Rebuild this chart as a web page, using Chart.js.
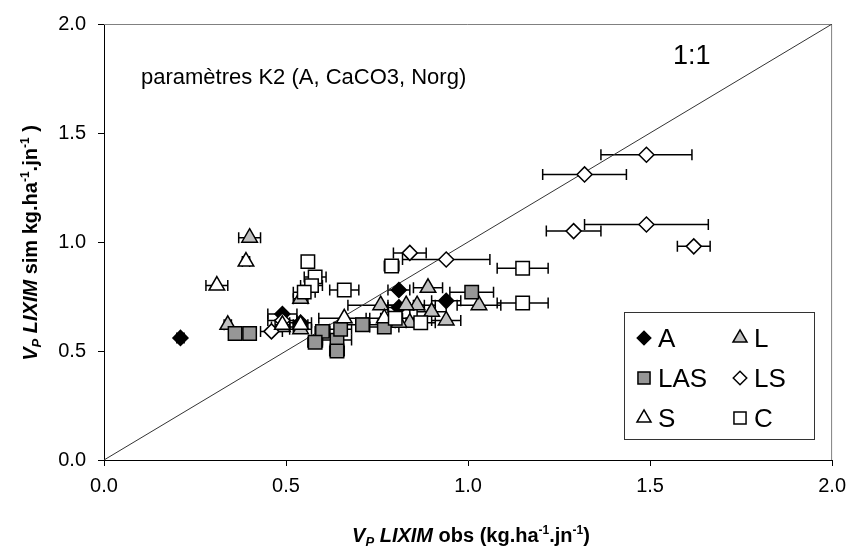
<!DOCTYPE html>
<html>
<head>
<meta charset="utf-8">
<script src="https://cdn.jsdelivr.net/npm/chart.js@4.4.0/dist/chart.umd.min.js"></script>
<style>
  html, body { margin: 0; padding: 0; background: #fff; }
  #wrap { width: 854px; height: 549px; }
</style>
</head>
<body>
<div id="wrap"><canvas id="vpChart" width="854" height="549"></canvas></div>
<script>
/* axis range + ticks */
const axisMin = 0;
const axisMax = 2;
const axisStep = 0.5;

/* series: observed (x), simulated (y), half-width of the x error bar */
const aX   = [0.21, 0.49, 0.54, 0.81, 0.81, 0.94];
const aY   = [0.56, 0.67, 0.63, 0.78, 0.70, 0.73];
const aErr = [0.01, 0.04, 0.03, 0.03, 0.03, 0.04];

const lX   = [0.40, 0.34, 0.54, 0.54, 0.49, 0.76, 0.89, 0.86, 0.83, 0.90, 0.94, 0.84, 0.81, 1.03];
const lY   = [1.02, 0.62, 0.74, 0.60, 0.61, 0.71, 0.79, 0.71, 0.71, 0.68, 0.64, 0.63, 0.63, 0.71];
const lErr = [0.03, 0.01, 0.02, 0.03, 0.03, 0.09, 0.04, 0.05, 0.05, 0.04, 0.04, 0.04, 0.04, 0.06];

const lasX   = [0.36, 0.40, 0.60, 0.58, 0.64, 0.64, 0.71, 0.77, 1.01, 0.65];
const lasY   = [0.58, 0.58, 0.59, 0.54, 0.55, 0.50, 0.62, 0.61, 0.77, 0.60];
const lasErr = [0.01, 0.01, 0.02, 0.02, 0.04, 0.02, 0.05, 0.04, 0.06, 0.03];

const lsX   = [1.49, 1.32, 1.29, 1.49, 1.62, 0.84, 0.94, 0.49, 0.46];
const lsY   = [1.40, 1.31, 1.05, 1.08, 0.98, 0.95, 0.92, 0.64, 0.59];
const lsErr = [0.125, 0.115, 0.075, 0.17, 0.045, 0.045, 0.12, 0.04, 0.03];

const sX   = [0.31, 0.39, 0.66, 0.77, 0.54, 0.49];
const sY   = [0.80, 0.91, 0.65, 0.65, 0.62, 0.62];
const sErr = [0.03, 0.01, 0.07, 0.05, 0.02, 0.02];

const cX   = [0.56, 0.58, 0.57, 0.55, 0.66, 0.79, 1.15, 1.15, 0.87, 0.80];
const cY   = [0.91, 0.84, 0.80, 0.77, 0.78, 0.89, 0.88, 0.72, 0.63, 0.65];
const cErr = [0.01, 0.03, 0.03, 0.03, 0.04, 0.02, 0.07, 0.07, 0.04, 0.04];

const oneToOne = [0, 2];

function toPoints(xs, ys) {
  return xs.map((x, i) => ({ x: x, y: ys[i] }));
}

function series(label, xs, ys, errs, style, radius, fill, order) {
  return {
    label: label,
    data: toPoints(xs, ys),
    xErr: errs,
    pointStyle: style,
    pointRadius: radius,
    pointBackgroundColor: fill,
    pointBorderColor: '#000',
    pointBorderWidth: 1.5,
    showLine: false,
    order: order
  };
}

const datasets = [
  series('A',   aX,   aY,   aErr,   'rectRot',  7.5, '#000000', 6),
  series('L',   lX,   lY,   lErr,   'triangle', 9,   '#c0c0c0', 5),
  series('LAS', lasX, lasY, lasErr, 'rect',     9.5, '#969696', 4),
  series('LS',  lsX,  lsY,  lsErr,  'rectRot',  7.5, '#ffffff', 3),
  series('S',   sX,   sY,   sErr,   'triangle', 9,   '#ffffff', 2),
  series('C',   cX,   cY,   cErr,   'rect',     9.5, '#ffffff', 1),
  {
    label: '1:1',
    data: toPoints(oneToOne, oneToOne),
    showLine: true,
    borderColor: '#333',
    borderWidth: 1,
    pointRadius: 0,
    order: 10
  }
];

/* Horizontal error bars, drawn under the markers */
const errorBars = {
  id: 'errorBars',
  beforeDatasetsDraw(chart) {
    const ctx = chart.ctx;
    const xs = chart.scales.x, ys = chart.scales.y;
    ctx.save();
    ctx.strokeStyle = '#000';
    ctx.lineWidth = 1.5;
    chart.data.datasets.forEach((ds) => {
      if (!ds.xErr) return;
      ds.data.forEach((p, i) => {
        const e = ds.xErr[i];
        if (!e) return;
        const x0 = xs.getPixelForValue(p.x - e);
        const x1 = xs.getPixelForValue(p.x + e);
        const y = ys.getPixelForValue(p.y);
        ctx.beginPath();
        ctx.moveTo(x0, y); ctx.lineTo(x1, y);
        ctx.moveTo(x0, y - 5.5); ctx.lineTo(x0, y + 5.5);
        ctx.moveTo(x1, y - 5.5); ctx.lineTo(x1, y + 5.5);
        ctx.stroke();
      });
    });
    ctx.restore();
  }
};

// draws a run of text pieces [text, font, dy], centred on x
function drawRich(ctx, parts, x, y) {
  let w = 0;
  parts.forEach((p) => { ctx.font = p[1]; w += ctx.measureText(p[0]).width; });
  let cx = x - w / 2;
  parts.forEach((p) => {
    ctx.font = p[1];
    ctx.fillText(p[0], cx, y + p[2]);
    cx += ctx.measureText(p[0]).width;
  });
}

const FONT = '"Liberation Sans", Arial, sans-serif';

/* Frame, annotations, axis titles, legend box */
const decorations = {
  id: 'decorations',
  beforeDatasetsDraw(chart) {
    const ctx = chart.ctx, a = chart.chartArea;
    ctx.save();
    ctx.strokeStyle = '#808080';
    ctx.lineWidth = 1;
    ctx.beginPath();
    ctx.moveTo(a.left, a.top + 0.5); ctx.lineTo(a.right - 0.5, a.top + 0.5);
    ctx.lineTo(a.right - 0.5, a.bottom);
    ctx.stroke();
    ctx.restore();
  },
  afterDraw(chart) {
    const ctx = chart.ctx;
    ctx.save();
    ctx.fillStyle = '#000';
    ctx.textBaseline = 'alphabetic';

    ctx.textAlign = 'left';
    ctx.font = '22px ' + FONT;
    ctx.fillText('paramètres K2 (A, CaCO3, Norg)', 141, 84);
    ctx.font = '27px ' + FONT;
    ctx.fillText('1:1', 673, 64);

    const b = 'bold 20px ' + FONT, bi = 'italic bold 20px ' + FONT;
    const sub = 'italic bold 13px ' + FONT, sup = 'bold 12px ' + FONT;
    drawRich(ctx, [['V', bi, 0], ['P', sub, 4], [' LIXIM', bi, 0], [' obs (kg.ha', b, 0],
      ['-1', sup, -8], ['.jn', b, 0], ['-1', sup, -8], [')', b, 0]], 471, 542);

    ctx.save();
    ctx.translate(37, 243);
    ctx.rotate(-Math.PI / 2);
    drawRich(ctx, [['V', bi, 0], ['P', sub, 4], [' LIXIM', bi, 0], [' sim kg.ha', b, 0],
      ['-1', sup, -8], ['.jn', b, 0], ['-1', sup, -8], [' )', b, 0]], 0, 0);
    ctx.restore();

    // legend
    ctx.fillStyle = '#fff';
    ctx.fillRect(624, 312, 190, 127);
    ctx.strokeStyle = '#333';
    ctx.lineWidth = 1;
    ctx.strokeRect(624.5, 312.5, 190, 127);
    const cols = [644, 740], rows = [338, 378, 418];
    chart.data.datasets.forEach((ds, i) => {
      if (!ds.xErr) return;
      const px = cols[i % 2], py = rows[Math.floor(i / 2)];
      ctx.fillStyle = ds.pointBackgroundColor;
      ctx.strokeStyle = '#000';
      ctx.lineWidth = 1.5;
      Chart.helpers.drawPoint(ctx, {
        pointStyle: ds.pointStyle,
        radius: ds.pointRadius * 0.9,
        borderWidth: 1.5,
        rotation: 0
      }, px, py);
      ctx.fillStyle = '#000';
      ctx.font = '26px ' + FONT;
      ctx.textAlign = 'left';
      ctx.fillText(ds.label, px + 14, py + 9);
    });
    ctx.restore();
  }
};

const tickFont = { family: FONT, size: 20 };

new Chart(document.getElementById('vpChart'), {
  type: 'scatter',
  data: { datasets: datasets },
  options: {
    responsive: false,
    animation: false,
    layout: { padding: { top: 22, right: 19, left: 0, bottom: 0 } },
    plugins: { legend: { display: false }, tooltip: { enabled: false } },
    scales: {
      x: {
        type: 'linear',
        min: axisMin,
        max: axisMax,
        afterFit: (s) => { s.height = 89; },
        ticks: {
          stepSize: axisStep,
          color: '#000',
          font: tickFont,
          padding: 8,
          callback: (v) => v.toFixed(1)
        },
        grid: { drawOnChartArea: false, drawTicks: true, tickLength: 6, color: '#000' },
        border: { display: true, color: '#000', width: 1 }
      },
      y: {
        type: 'linear',
        min: axisMin,
        max: axisMax,
        afterFit: (s) => { s.width = 104; },
        ticks: {
          stepSize: axisStep,
          color: '#000',
          font: tickFont,
          padding: 12,
          callback: (v) => v.toFixed(1)
        },
        grid: { drawOnChartArea: false, drawTicks: true, tickLength: 6, color: '#000' },
        border: { display: true, color: '#000', width: 1 }
      }
    }
  },
  plugins: [errorBars, decorations]
});
</script>
</body>
</html>
